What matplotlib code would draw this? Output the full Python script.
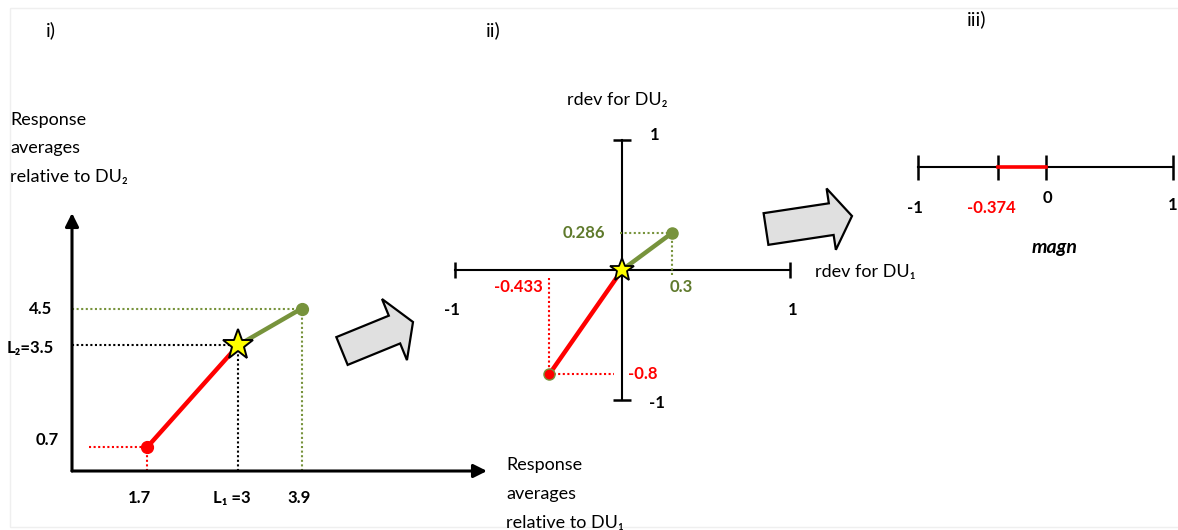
import matplotlib
matplotlib.use("Agg")
import matplotlib.pyplot as plt
from matplotlib.patches import FancyArrow, Rectangle

# ---- values -------------------------------------------------------------
# i) response averages: low point, reference (L1, L2), high point
resp_x = [1.7, 3.0, 3.9]
resp_y = [0.7, 3.5, 4.5]
resp_x_labels = ["1.7", "L\u2081 =3", "3.9"]
resp_y_labels = ["0.7", "L\u2082=3.5", "4.5"]

# ii) relative deviations: low point, origin, high point
rdev_x = [-0.433, 0.0, 0.3]
rdev_y = [-0.8, 0.0, 0.286]
rdev_x_labels = ["-0.433", "", "0.3"]
rdev_y_labels = ["-0.8", "", "0.286"]

# iii) magnitude on the [-1, 1] line
magn = -0.374
magn_ticks = [-1, magn, 0, 1]
magn_labels = ["-1", "-0.374", "0", "1"]

# ---- style --------------------------------------------------------------
W, H = 1178, 530
FONT = ["Lato", "DejaVu Sans"]
RED = "#ff0000"
GREEN = "#77933c"
GREEN_TXT = "#5f7a2c"
BODY = 13
LABEL = 12
plt.rcParams["font.family"] = FONT

fig = plt.figure(figsize=(W / 100, H / 100), dpi=100)
fig.patch.set_facecolor("white")


def px_axes(left, top, right, bottom):
    ax = fig.add_axes([left / W, 1 - bottom / H, (right - left) / W, (bottom - top) / H])
    ax.set_axis_off()
    ax.patch.set_alpha(0)
    return ax


def note(ax, text, xy, off, color="black", ha="center", va="center", size=LABEL, **kw):
    ax.annotate(text, xy=xy, xytext=off, textcoords="offset pixels",
                ha=ha, va=va, color=color, fontsize=size, fontweight="bold",
                annotation_clip=False, **kw)


# ---- page overlay: frame, panel titles, block arrows ----------------------
ax0 = fig.add_axes([0, 0, 1, 1])
ax0.set_xlim(0, W)
ax0.set_ylim(H, 0)
ax0.set_axis_off()
ax0.add_patch(Rectangle((10, 8), 1200, 519, fill=False, ec="#efefef", lw=1))

for label, x, y in [("i)", 46, 30), ("ii)", 486, 30), ("iii)", 967, 19)]:
    ax0.text(x, y, label, fontsize=14, ha="left", va="center")

for i, line in enumerate(["Response", "averages", "relative to DU\u2082"]):
    ax0.text(10, 120 + 28.5 * i, line, fontsize=BODY, ha="left", va="center")
for i, line in enumerate(["Response", "averages", "relative to DU\u2081"]):
    ax0.text(506, 465 + 29 * i, line, fontsize=BODY, ha="left", va="center")
ax0.text(567, 100, "rdev for DU\u2082", fontsize=BODY, ha="left", va="center")
ax0.text(815, 272, "rdev for DU\u2081", fontsize=BODY, ha="left", va="center")

arrow_kw = dict(length_includes_head=True, fc="#e0e0e0", ec="black", lw=1.6,
                joinstyle="miter")
ax0.add_patch(FancyArrow(342, 351, 71, -29, width=30, head_width=66,
                         head_length=20, **arrow_kw))
ax0.add_patch(FancyArrow(766, 229, 86, -13, width=32, head_width=62,
                         head_length=21, **arrow_kw))

# ---- i) response averages -------------------------------------------------
ax1 = px_axes(72, 213, 487, 471)
ax1.set_xlim(0.631, 6.542)
ax1.set_ylim(0.051, 7.119)
x0, y0 = ax1.get_xlim()[0], ax1.get_ylim()[0]
xr = ax1.get_xlim()[1] - x0

for xy_to in [(1, 0), (0, 1)]:
    ax1.annotate("", xy=xy_to, xytext=(0, 0), xycoords="axes fraction",
                 arrowprops=dict(arrowstyle="-|>", lw=2.2, color="black",
                                 mutation_scale=20, shrinkA=0, shrinkB=0))

(lx, cx, hx), (ly, cy, hy) = resp_x, resp_y
dot = dict(ls=(0, (1, 1.2)), lw=1.5)
ax1.plot([x0 + 0.04 * xr, lx], [ly, ly], color=RED, **dot)
ax1.plot([lx, lx], [y0, ly], color=RED, **dot)
ax1.plot([x0, cx], [cy, cy], color="black", **dot)
ax1.plot([cx, cx], [y0, cy], color="black", **dot)
ax1.plot([x0, hx], [hy, hy], color=GREEN, **dot)
ax1.plot([hx, hx], [y0, hy], color=GREEN, **dot)

ax1.plot([lx, cx], [ly, cy], color=RED, lw=3.2, solid_capstyle="butt")
ax1.plot([cx, hx], [cy, hy], color=GREEN, lw=3.2, solid_capstyle="butt")
ax1.plot([lx], [ly], "o", color=RED, ms=8.5)
ax1.plot([hx], [hy], "o", color=GREEN, ms=8.5)
ax1.plot([cx], [cy], "*", ms=23, mfc="#ffff00", mec="black", mew=1.4, zorder=5)

for x, lab, dx in zip(resp_x, resp_x_labels, [-8, -7, -2]):
    note(ax1, lab, (x, y0), (dx, -27))
for y, lab, dx, dy in zip(resp_y, resp_y_labels, [-13, -18, -20], [7, -3, 0]):
    note(ax1, lab, (x0, y), (dx, dy), ha="right")

# ---- ii) relative deviations ----------------------------------------------
ax2 = px_axes(421, 114, 823, 426)
ax2.set_xlim(-1.2, 1.2)
ax2.set_ylim(-1.2, 1.2)

ax2.plot([-1, 1], [0, 0], color="black", lw=1.5)
ax2.plot([0, 0], [-1, 1], color="black", lw=1.5)
ax2.plot([-1, 1], [0, 0], ls="none", marker="|", ms=12, mew=1.8, color="black")
ax2.plot([0, 0], [-1, 1], ls="none", marker="_", ms=13, mew=1.8, color="black")

(rlx, ox, rhx), (rly, oy, rhy) = rdev_x, rdev_y
ax2.plot([rlx, rlx], [-0.06, rly], color=RED, **dot)
ax2.plot([rlx, -0.05], [rly, rly], color=RED, **dot)
ax2.plot([-0.01, rhx], [rhy, rhy], color=GREEN, **dot)
ax2.plot([rhx, rhx], [-0.04, rhy], color=GREEN, **dot)

ax2.plot([rlx, ox], [rly, oy], color=RED, lw=3.2, solid_capstyle="butt")
ax2.plot([ox, rhx], [oy, rhy], color=GREEN, lw=3.2, solid_capstyle="butt")
ax2.plot([rlx], [rly], "o", mfc=RED, mec=GREEN, mew=1, ms=8)
ax2.plot([rhx], [rhy], "o", color=GREEN, ms=8)
ax2.plot([ox], [oy], "*", ms=18, mfc="#ffff00", mec="black", mew=1.3, zorder=5)

note(ax2, rdev_x_labels[0], (rlx, 0), (-7, -17), color=RED, ha="right")
note(ax2, rdev_y_labels[0], (0, rly), (6, 0), color=RED, ha="left")
note(ax2, rdev_x_labels[2], (rhx, 0), (9, -17), color=GREEN_TXT)
note(ax2, rdev_y_labels[2], (0, rhy), (-17, 0), color=GREEN_TXT, ha="right")
note(ax2, "1", (0, 1), (33, 5))
note(ax2, "-1", (0, -1), (35, -3))
note(ax2, "-1", (-1, 0), (-3, -40))
note(ax2, "1", (1, 0), (3, -40))

# ---- iii) magnitude -------------------------------------------------------
ax3 = px_axes(905, 137, 1186, 197)
ax3.set_xlim(-1.1, 1.1)
ax3.set_ylim(-1, 1)
ax3.plot([-1, 1], [0, 0], color="black", lw=1.5, clip_on=False)
ax3.plot([magn, 0], [0, 0], color=RED, lw=2.6, clip_on=False, zorder=3)
ax3.plot(magn_ticks, [0] * len(magn_ticks), ls="none", marker="|", ms=18,
         mew=1.8, color="black", clip_on=False)

for t, lab, off, col, ha in zip(
        magn_ticks, magn_labels,
        [(-3, -41), (-6, -41), (2, -31), (4, -38)],
        ["black", RED, "black", "black"],
        ["center", "center", "center", "right"]):
    note(ax3, lab, (t, 0), off, color=col, ha=ha)
note(ax3, "magn", (0, 0), (9, -80), style="italic", size=14)

fig.savefig("out.png", dpi=100, facecolor="white")
